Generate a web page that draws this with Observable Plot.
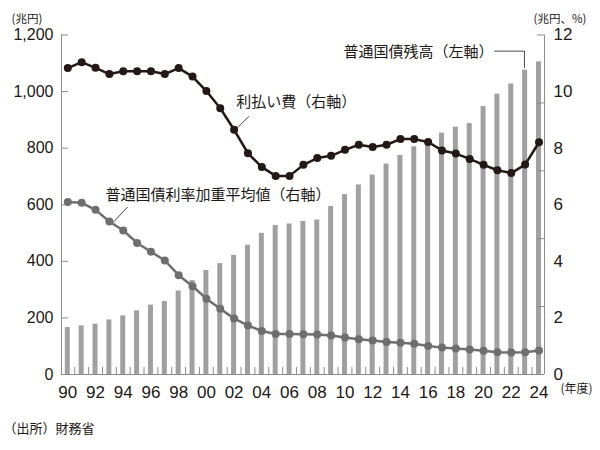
<!DOCTYPE html>
<html>
<head>
<meta charset="utf-8">
<script src="https://cdn.jsdelivr.net/npm/d3@7"></script>
<script src="https://cdn.jsdelivr.net/npm/@observablehq/plot@0.6"></script>
<style>
  html, body { margin: 0; padding: 0; background: #fff; }
  #chart { width: 600px; height: 450px; }
</style>
</head>
<body>
<div id="chart"></div>
<script>
// ---- data ----
const years = d3.range(1990, 2025);
// 普通国債残高 (兆円, left axis)
const debt = [166, 172, 178, 193, 207, 225, 245, 258, 295, 332,
              368, 392, 421, 457, 499, 527, 532, 541, 546, 594,
              636, 670, 705, 744, 774, 805, 831, 853, 874, 887,
              947, 991, 1027, 1076, 1105];
// 利払い費 (兆円, right axis)
const interest = [10.83, 11.04, 10.84, 10.62, 10.72, 10.72, 10.72, 10.62, 10.83, 10.53,
                  10.02, 9.41, 8.65, 7.82, 7.33, 7.02, 7.02, 7.41, 7.65, 7.73,
                  7.94, 8.12, 8.04, 8.12, 8.32, 8.32, 8.22, 7.92, 7.81, 7.62,
                  7.41, 7.22, 7.12, 7.42, 8.21];
// 普通国債利率加重平均値 (%, right axis)
const rate = [6.10, 6.07, 5.82, 5.41, 5.09, 4.65, 4.34, 4.03, 3.51, 3.12,
              2.68, 2.32, 1.98, 1.73, 1.54, 1.43, 1.43, 1.42, 1.41, 1.38,
              1.31, 1.25, 1.20, 1.15, 1.12, 1.09, 1.01, 0.95, 0.92, 0.88,
              0.84, 0.79, 0.78, 0.79, 0.85];
const leftTicks = [0, 200, 400, 600, 800, 1000, 1200];
const rightLabels = [0, 2, 4, 6, 8, 10, 12];
const rightTickMarks = [0, 2.4, 4.8, 7.2, 9.6, 12];
const xLabelYears = d3.range(1990, 2025, 2);

const rows = years.map((y, i) => ({year: y, debt: debt[i], interest: interest[i], rate: rate[i]}));

// right axis mapped onto left scale (12 -> 1200)
const K = 100;
const xDomain = [1989.545, 2024.397];
const ink = "#231815";
const axisGray = "#8c8c8c";
const jp = "'Noto Sans CJK JP', 'Noto Sans', sans-serif";
const num = "'Liberation Sans', Arial, sans-serif";

const W = 600, H = 450, mL = 61, mR = 56, mT = 34.5, mB = 76;
const innerW = W - mL - mR, innerH = H - mT - mB;

const chart = Plot.plot({
  width: W, height: H,
  marginLeft: mL, marginRight: mR, marginTop: mT, marginBottom: mB,
  style: {background: "#fff", color: ink, overflow: "visible"},
  x: {type: "linear", domain: xDomain},
  y: {domain: [0, 1200]},
  marks: [
    // bars
    Plot.rectY(rows, {x1: d => d.year - 0.18, x2: d => d.year + 0.18, y1: 0, y2: "debt", fill: "#a0a0a0"}),
    // frame lines (left, right, bottom)
    Plot.ruleX([xDomain[0], xDomain[1]], {stroke: axisGray, strokeWidth: 1}),
    Plot.ruleY([0], {stroke: axisGray, strokeWidth: 1}),
    // inward ticks: left
    Plot.ruleY(leftTicks.slice(1), {stroke: axisGray, insetRight: innerW - 7}),
    // inward ticks: right (at five equal intervals)
    Plot.ruleY(rightTickMarks.slice(1).map(v => v * K), {stroke: axisGray, insetLeft: innerW - 7}),
    // inward ticks: bottom, between years
    Plot.ruleX(years.slice(1), {x: d => d - 0.5, stroke: axisGray, insetTop: innerH - 7}),
    // axes labels
    Plot.axisY({anchor: "left", ticks: leftTicks, tickSize: 0, tickPadding: 8,
      tickFormat: d3.format(","), fontSize: 16, fontFamily: num, label: null}),
    Plot.axisY({anchor: "right", ticks: rightLabels.map(v => v * K), tickSize: 0, tickPadding: 9,
      tickFormat: d => String(d / K), fontSize: 17, fontFamily: num, label: null}),
    Plot.axisX({ticks: xLabelYears, tickSize: 0, tickPadding: 11,
      tickFormat: d => String(d).slice(2), fontSize: 17, fontFamily: num, label: null}),
    // rate line (gray)
    Plot.line(rows, {x: "year", y: d => d.rate * K, stroke: "#6e6e6e", strokeWidth: 2.5}),
    Plot.dot(rows, {x: "year", y: d => d.rate * K, r: 4, fill: "#6e6e6e"}),
    // interest line (black)
    Plot.line(rows, {x: "year", y: d => d.interest * K, stroke: ink, strokeWidth: 2.5}),
    Plot.dot(rows, {x: "year", y: d => d.interest * K, r: 4, fill: ink}),
    // leader lines
    Plot.line([[2020.8, 1143], [2022.95, 1143], [2022.95, 1085]], {stroke: ink, strokeWidth: 0.8}),
    Plot.line([[2003.06, 912], [2002.15, 868]], {stroke: ink, strokeWidth: 0.8}),
    Plot.line([[1994.29, 591], [1993.32, 540]], {stroke: ink, strokeWidth: 0.8}),
    // series labels
    Plot.text(["普通国債残高（左軸）"], {x: 2009.9, y: 1138, text: d => d, textAnchor: "start",
      fontSize: 15, fontFamily: jp, fill: ink}),
    Plot.text(["利払い費（右軸）"], {x: 2002.15, y: 962, text: d => d, textAnchor: "start",
      fontSize: 15, fontFamily: jp, fill: ink}),
    Plot.text(["普通国債利率加重平均値（右軸）"], {x: 1992.72, y: 633, text: d => d, textAnchor: "start",
      fontSize: 15, fontFamily: jp, fill: ink}),
    // unit labels
    Plot.text(["(兆円)"], {frameAnchor: "top-left", dx: -50, dy: -20.5, text: d => d, textAnchor: "start",
      fontSize: 11.5, fontFamily: jp, fill: ink}),
    Plot.text(["(兆円、%)"], {frameAnchor: "top-right", dx: -11, dy: -20.5, text: d => d, textAnchor: "start",
      fontSize: 11.5, fontFamily: jp, fill: ink}),
    Plot.text(["(年度)"], {frameAnchor: "bottom-right", dx: 16, dy: 18, text: d => d, textAnchor: "start",
      fontSize: 12, fontFamily: jp, fill: ink}),
    Plot.text(["（出所）財務省"], {frameAnchor: "bottom-left", dx: -58, dy: 58, text: d => d, textAnchor: "start",
      fontSize: 13, fontFamily: jp, fill: ink})
  ]
});
document.getElementById("chart").appendChild(chart);
</script>
</body>
</html>
